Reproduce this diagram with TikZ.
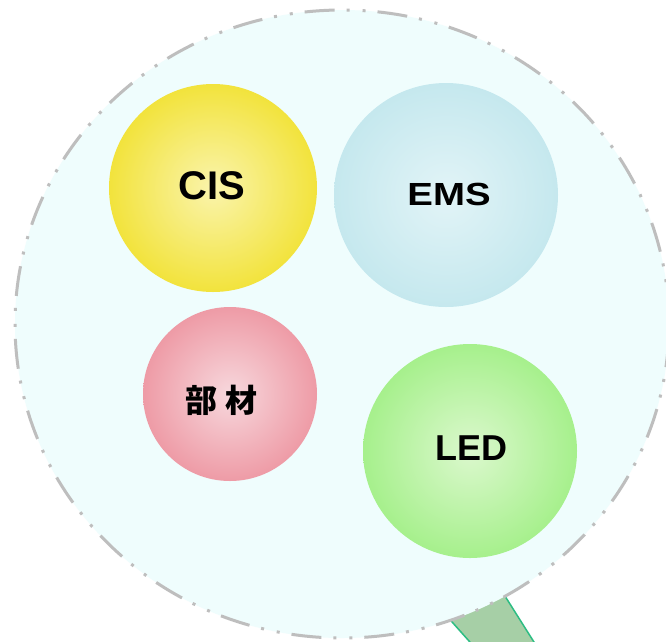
\documentclass[tikz,border=0pt]{standalone}
\usepackage{fontspec}
\setmainfont{Liberation Sans}
\newfontfamily\cjk{Noto Sans CJK JP}
\usetikzlibrary{shapes.geometric}
\definecolor{bgfill}{HTML}{EFFDFD}
\definecolor{dashgray}{HTML}{BEBEBE}
\definecolor{stemfill}{HTML}{A6CFA6}
\definecolor{stemline}{HTML}{2DBD83}
\definecolor{cisout}{HTML}{F2E33C}
\definecolor{cisin}{HTML}{FAF4AC}
\definecolor{emsout}{HTML}{C5E8EE}
\definecolor{emsin}{HTML}{E2F4F7}
\definecolor{buout}{HTML}{EE9BA6}
\definecolor{buin}{HTML}{F7D8DD}
\definecolor{ledout}{HTML}{A6F08C}
\definecolor{ledin}{HTML}{DBF8CD}
\tikzset{
  ball/.style={circle, inner sep=0pt, shading=radial, font=\bfseries},
  outer/.style={ellipse, inner sep=0pt, fill=bgfill, draw=dashgray, line width=3pt,
    dash pattern=on 30pt off 12pt on 3pt off 13pt on 3pt off 12pt},
  stem/.style={fill=stemfill, draw=stemline, line width=1.5pt}
}
\begin{document}
\begin{tikzpicture}[x=1pt,y=-1pt]
\useasboundingbox (0,0) rectangle (666,641);
\clip (0,0) rectangle (666,641);
\fill[white] (0,0) rectangle (666,641);
\coordinate (s1) at (423.6,590);
\coordinate (s2) at (498,585);
\coordinate (s3) at (539,650);
\coordinate (s4) at (477,650);
\fill[stemfill] (s1) -- (s2) -- (s3) -- (s4) -- cycle;
\draw[stemline, line width=1.5pt] (s1) -- (s4) (s2) -- (s3);
\node[outer, minimum width=654pt, minimum height=628pt] (big) at (342,324) {};
\node[ball, minimum size=208pt, inner color=cisin, outer color=cisout] (cis) at (213,188) {};
\node[font=\bfseries\fontsize{40}{48}\selectfont] (cist) at (212,186) {CIS};
\node[ball, minimum size=224pt, inner color=emsin, outer color=emsout] (ems) at (446,195) {};
\node[font=\bfseries\fontsize{32}{38}\selectfont] (emst) at (449,194) {\scalebox{1.2}[1]{EMS}};
\node[ball, minimum size=174pt, inner color=buin, outer color=buout] (bu) at (230,394) {};
\node[font=\cjk\bfseries\fontsize{32}{38}\selectfont] (but) at (221,400) {部\hspace{8pt}材};
\node[ball, minimum size=214pt, inner color=ledin, outer color=ledout] (led) at (470,451) {};
\node[font=\bfseries\fontsize{36}{43}\selectfont] (ledt) at (471,448) {LED};
\end{tikzpicture}
\end{document}
